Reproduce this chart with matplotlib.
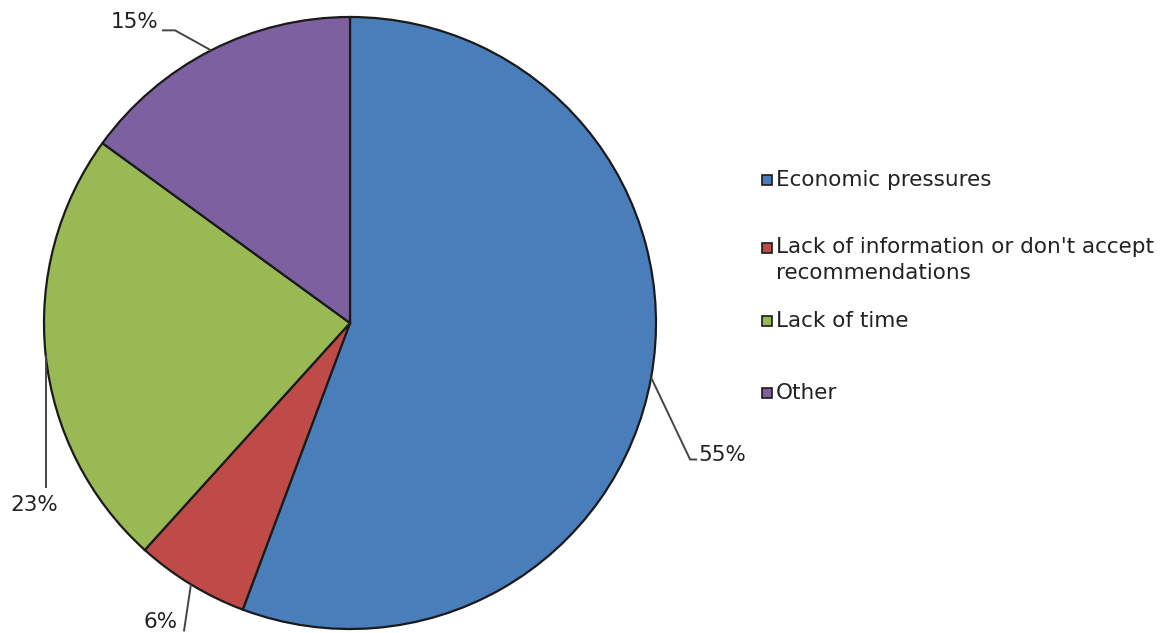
import numpy as np
import matplotlib
matplotlib.use("Agg")
import matplotlib.pyplot as plt
from matplotlib.patches import Rectangle

categories = ["Economic pressures",
              "Lack of information or don't accept\nrecommendations",
              "Lack of time",
              "Other"]
values = [55.7, 6.0, 23.3, 15.0]
pct_labels = ["55%", "6%", "23%", "15%"]
colors = ["#4A7EBB", "#BE4B48", "#98B954", "#7D60A0"]

W, H = 1167, 633
fig = plt.figure(figsize=(W / 100, H / 100), dpi=100)
ax = fig.add_axes([0, 0, 1, 1])

cx, cy, R = 350, H - 323, 306
wedges, _ = ax.pie(values, startangle=90, counterclock=False, colors=colors,
                   center=(cx, cy), radius=R, frame=True,
                   wedgeprops=dict(edgecolor="#1a1a1a", linewidth=1.6))
ax.set_xlim(0, W)
ax.set_ylim(0, H)
ax.set_aspect("equal")
ax.axis("off")

FS_LEG = 15.5
FS_PCT = 15.5
TC = "#222222"

# leader lines: (elbow offset, end offset) relative to the wedge edge point, text offset/alignment
leaders = [
    ((39, -82), (46, -82), (47, -77), "left"),
    ((-7, -47), (-7, -47), (-13, -38), "right"),
    ((0, -133), (0, -133), (-11, -150), "center"),
    ((-36, 20), (-49, 20), (-53, 28), "right"),
]
for w, lab, (p1, p2, pt, ha) in zip(wedges, pct_labels, leaders):
    ang = np.deg2rad((w.theta1 + w.theta2) / 2)
    ex, ey = cx + R * np.cos(ang), cy + R * np.sin(ang)
    xs = [ex, ex + p1[0], ex + p2[0]]
    ys = [ey, ey + p1[1], ey + p2[1]]
    ax.plot(xs, ys, color="#444444", lw=1.4, solid_capstyle="butt", clip_on=False)
    ax.text(ex + pt[0], ey + pt[1], lab, ha=ha, va="center", fontsize=FS_PCT, color=TC)

# legend
leg_y = [180, 248, 321, 393]
for lab, col, y in zip(categories, colors, leg_y):
    yy = H - y
    ax.add_patch(Rectangle((762, yy - 5), 10, 10, facecolor=col,
                           edgecolor="#1a1a1a", lw=1.2))
    if "\n" in lab:
        ax.text(776, yy + 11, lab, ha="left", va="top", fontsize=FS_LEG, color=TC,
                linespacing=1.4)
    else:
        ax.text(776, yy, lab, ha="left", va="center", fontsize=FS_LEG, color=TC)

fig.savefig("out.png", dpi=100, facecolor="white")
